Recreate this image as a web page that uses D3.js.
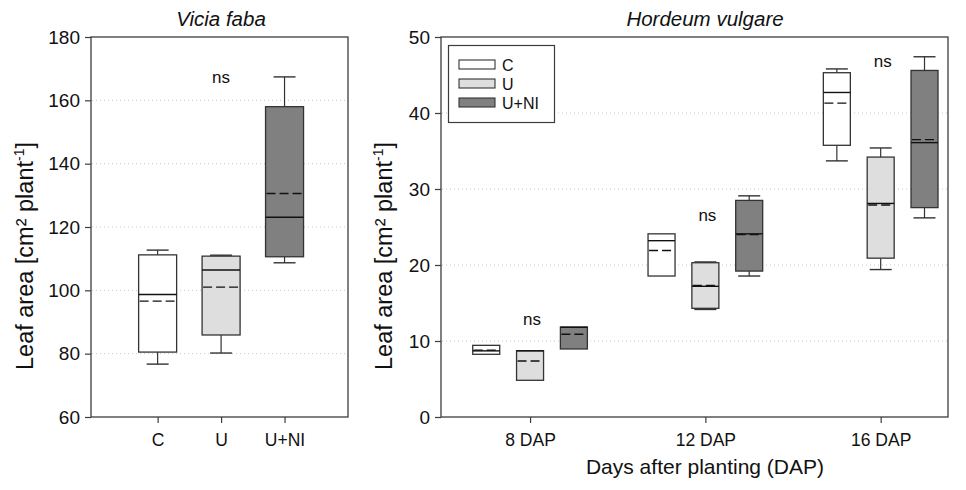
<!DOCTYPE html>
<html>
<head>
<meta charset="utf-8">
<script src="https://cdn.jsdelivr.net/npm/d3@7"></script>
<style>
  body { margin: 0; background: #fff; }
  svg { display: block; font-family: "Liberation Sans", Arial, sans-serif; }
</style>
</head>
<body>
<svg id="chart" width="966" height="490"></svg>
<script>
// ---- Vicia faba: leaf area per treatment ----
const treatments = ["C", "U", "U+NI"];
const vfWhiskerLow  = [76.7, 80.2, 108.7];
const vfQ1          = [80.5, 85.9, 110.6];
const vfMedian      = [98.7, 106.4, 123.1];
const vfMean        = [96.6, 101.0, 130.6];
const vfQ3          = [111.2, 110.8, 158.0];
const vfWhiskerHigh = [112.7, 111.1, 167.4];
const vfTicks = [60, 80, 100, 120, 140, 160, 180];
const vfSignif = [{ label: "ns", value: 165.4 }];

// ---- Hordeum vulgare: leaf area per sampling day and treatment ----
const days = ["8 DAP", "12 DAP", "16 DAP"];
// rows = days, columns = treatments (C, U, U+NI); null = no whisker drawn
const hvWhiskerLow  = [[null, null, null], [null, 14.15, 18.55], [33.7, 19.4, 26.2]];
const hvQ1          = [[8.25, 4.83, 8.95], [18.55, 14.3, 19.2], [35.75, 20.9, 27.55]];
const hvMedian      = [[8.7, 8.7, 11.8], [23.2, 17.2, 24.1], [42.7, 28.1, 36.1]];
const hvMean        = [[8.8, 7.37, 10.88], [21.9, 17.3, 24.0], [41.3, 27.9, 36.5]];
const hvQ3          = [[9.43, 8.73, 11.84], [24.1, 20.3, 28.5], [45.3, 34.2, 45.6]];
const hvWhiskerHigh = [[null, null, null], [null, 20.4, 29.1], [45.8, 35.4, 47.4]];
const hvTicks = [0, 10, 20, 30, 40, 50];
const hvSignif = [
  { day: 0, label: "ns", value: 12.07 },
  { day: 1, label: "ns", value: 25.8 },
  { day: 2, label: "ns", value: 46.1 }
];

const fills = ["#ffffff", "#dedede", "#808080"];
const frameColor = "#3c3c3c";
const boxStroke = "#333";

const svg = d3.select("#chart");

function drawFrame(g, x0, x1, y0, y1) {
  g.append("rect")
    .attr("x", x0).attr("y", y0)
    .attr("width", x1 - x0).attr("height", y1 - y0)
    .attr("fill", "none").attr("stroke", frameColor).attr("stroke-width", 1.3);
}

function drawGrid(g, y, ticks, x0, x1) {
  g.selectAll(null)
    .data(ticks.slice(1, -1))
    .enter().append("line")
    .attr("x1", x0 + 1).attr("x2", x1 - 1)
    .attr("y1", d => y(d)).attr("y2", d => y(d))
    .attr("stroke", "#c8c8c8").attr("stroke-width", 1)
    .attr("stroke-dasharray", "1,3");
}

function styleAxis(sel, size) {
  sel.select(".domain").remove();
  sel.selectAll(".tick line").attr("stroke", frameColor).attr("stroke-width", 1.2);
  sel.selectAll(".tick text")
    .attr("fill", "#111")
    .style("font-size", size + "px")
    .style("font-family", "'Liberation Sans', Arial, sans-serif");
}

function drawBox(g, cx, w, y, s, fill) {
  const capW = 22;
  if (s.wHigh != null && s.wHigh > s.q3) {
    g.append("line").attr("x1", cx).attr("x2", cx)
      .attr("y1", y(s.q3)).attr("y2", y(s.wHigh))
      .attr("stroke", boxStroke).attr("stroke-width", 1.2);
    g.append("line").attr("x1", cx - capW / 2).attr("x2", cx + capW / 2)
      .attr("y1", y(s.wHigh)).attr("y2", y(s.wHigh))
      .attr("stroke", boxStroke).attr("stroke-width", 1.4);
  }
  if (s.wLow != null && s.wLow < s.q1) {
    g.append("line").attr("x1", cx).attr("x2", cx)
      .attr("y1", y(s.q1)).attr("y2", y(s.wLow))
      .attr("stroke", boxStroke).attr("stroke-width", 1.2);
    g.append("line").attr("x1", cx - capW / 2).attr("x2", cx + capW / 2)
      .attr("y1", y(s.wLow)).attr("y2", y(s.wLow))
      .attr("stroke", boxStroke).attr("stroke-width", 1.4);
  }
  g.append("rect")
    .attr("x", cx - w / 2).attr("y", y(s.q3))
    .attr("width", w).attr("height", y(s.q1) - y(s.q3))
    .attr("fill", fill).attr("stroke", boxStroke).attr("stroke-width", 1.3);
  g.append("line")
    .attr("x1", cx - w / 2).attr("x2", cx + w / 2)
    .attr("y1", y(s.median)).attr("y2", y(s.median))
    .attr("stroke", "#111").attr("stroke-width", 1.4);
  g.append("line")
    .attr("x1", cx - w / 2 + 1).attr("x2", cx + w / 2)
    .attr("y1", y(s.mean)).attr("y2", y(s.mean))
    .attr("stroke", "#111").attr("stroke-width", 1.4)
    .attr("stroke-dasharray", "9,4");
}

function yTitle(g, x, yc) {
  const t = g.append("text")
    .attr("transform", `translate(${x},${yc}) rotate(-90)`)
    .attr("text-anchor", "middle")
    .attr("fill", "#111")
    .style("font-size", "23.5px");
  t.append("tspan").text("Leaf area [cm² plant");
  t.append("tspan").text("-1").style("font-size", "14px").attr("dy", -9);
  t.append("tspan").text("]").attr("dy", 9);
}

// ================= Vicia faba panel =================
const L = { x0: 91, x1: 348, y0: 37, y1: 417 };
const gL = svg.append("g");
const xL = d3.scaleLinear().domain([-0.05, 4.0]).range([L.x0, L.x1]);
const yL = d3.scaleLinear().domain([60, 180]).range([L.y1, L.y0]);

drawGrid(gL, yL, vfTicks, L.x0, L.x1);

gL.append("g").attr("transform", `translate(${L.x0},0)`)
  .call(d3.axisLeft(yL).tickValues(vfTicks).tickSize(6).tickPadding(5).tickSizeOuter(0))
  .call(styleAxis, 19);
gL.append("g").attr("transform", `translate(0,${L.y1})`)
  .call(d3.axisBottom(xL).tickValues([1, 2, 3]).tickFormat(d => treatments[d - 1])
    .tickSize(6).tickPadding(11).tickSizeOuter(0))
  .call(styleAxis, 17.5);

treatments.forEach((t, i) => {
  drawBox(gL, xL(i + 1), 38, yL, {
    wLow: vfWhiskerLow[i], q1: vfQ1[i], median: vfMedian[i], mean: vfMean[i],
    q3: vfQ3[i], wHigh: vfWhiskerHigh[i]
  }, fills[i]);
});

gL.selectAll(null).data(vfSignif).enter().append("text")
  .attr("x", xL(2)).attr("y", d => yL(d.value))
  .attr("text-anchor", "middle").attr("fill", "#111")
  .style("font-size", "17px").text(d => d.label);

drawFrame(gL, L.x0, L.x1, L.y0, L.y1);

gL.append("text").attr("x", 221).attr("y", 26)
  .attr("text-anchor", "middle").attr("fill", "#111")
  .style("font-size", "20.5px").style("font-style", "italic").text("Vicia faba");

yTitle(gL, 33, 256);

// ================= Hordeum vulgare panel =================
const R = { x0: 441, x1: 948, y0: 37, y1: 417 };
const gR = svg.append("g");
const xR = d3.scaleLinear().domain([0.492, 3.384]).range([R.x0, R.x1]);
const yR = d3.scaleLinear().domain([0, 50]).range([R.y1, R.y0]);
const offset = 0.25;   // treatment offset inside a day group (group units)
const boxW = 27;

drawGrid(gR, yR, hvTicks, R.x0, R.x1);

gR.append("g").attr("transform", `translate(${R.x0},0)`)
  .call(d3.axisLeft(yR).tickValues(hvTicks).tickSize(6).tickPadding(5).tickSizeOuter(0))
  .call(styleAxis, 19);
gR.append("g").attr("transform", `translate(0,${R.y1})`)
  .call(d3.axisBottom(xR).tickValues([1, 2, 3]).tickFormat(d => days[d - 1])
    .tickSize(6).tickPadding(11).tickSizeOuter(0))
  .call(styleAxis, 17.5);

days.forEach((day, di) => {
  treatments.forEach((t, ti) => {
    drawBox(gR, xR(di + 1 + (ti - 1) * offset), boxW, yR, {
      wLow: hvWhiskerLow[di][ti], q1: hvQ1[di][ti], median: hvMedian[di][ti],
      mean: hvMean[di][ti], q3: hvQ3[di][ti], wHigh: hvWhiskerHigh[di][ti]
    }, fills[ti]);
  });
});

gR.selectAll(null).data(hvSignif).enter().append("text")
  .attr("x", d => xR(d.day + 1) + 2).attr("y", d => yR(d.value))
  .attr("text-anchor", "middle").attr("fill", "#111")
  .style("font-size", "17px").text(d => d.label);

// legend
const leg = gR.append("g");
leg.append("rect").attr("x", 448.5).attr("y", 45.5).attr("width", 106).attr("height", 77)
  .attr("fill", "#fff").attr("stroke", frameColor).attr("stroke-width", 1.2);
treatments.forEach((t, i) => {
  const cy = 64.5 + i * 19;
  leg.append("rect").attr("x", 459).attr("y", cy - 4.5).attr("width", 36).attr("height", 9)
    .attr("fill", fills[i]).attr("stroke", boxStroke).attr("stroke-width", 1.1);
  leg.append("text").attr("x", 502).attr("y", cy + 6)
    .attr("fill", "#111").style("font-size", "16px").text(t);
});

drawFrame(gR, R.x0, R.x1, R.y0, R.y1);

gR.append("text").attr("x", 705).attr("y", 26)
  .attr("text-anchor", "middle").attr("fill", "#111")
  .style("font-size", "20.5px").style("font-style", "italic").text("Hordeum vulgare");

yTitle(gR, 392, 256);

gR.append("text").attr("x", 705).attr("y", 474)
  .attr("text-anchor", "middle").attr("fill", "#111")
  .style("font-size", "21px").text("Days after planting (DAP)");
</script>
</body>
</html>
